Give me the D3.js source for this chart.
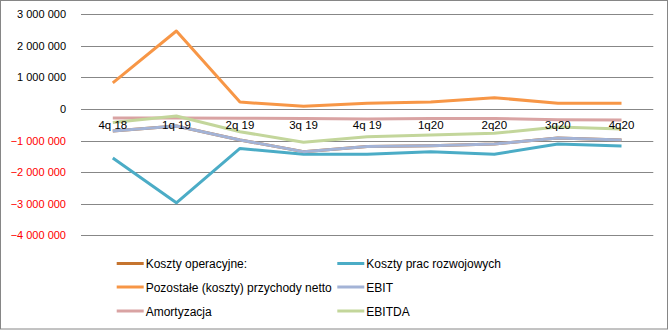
<!DOCTYPE html>
<html><head><meta charset="utf-8">
<script src="https://cdn.jsdelivr.net/npm/d3@7"></script>
<style>body{margin:0;background:#fff}svg{display:block}text{font-family:"Liberation Sans",Arial,sans-serif}</style>
</head><body>
<script>
const categories = ["4q 18","1q 19","2q 19","3q 19","4q 19","1q20","2q20","3q20","4q20"];
const kosztyOperacyjne = [-700000,-540000,-980000,-1350000,-1190000,-1160000,-1110000,-920000,-980000];
const kosztyPracRozwojowych = [-1550000,-2970000,-1250000,-1430000,-1430000,-1350000,-1430000,-1110000,-1170000];
const pozostale = [830000,2470000,220000,85000,180000,220000,360000,180000,180000];
const ebit = [-700000,-540000,-980000,-1350000,-1190000,-1160000,-1110000,-920000,-980000];
const amortyzacja = [-285000,-285000,-290000,-300000,-320000,-300000,-300000,-340000,-350000];
const ebitda = [-430000,-220000,-720000,-1050000,-880000,-820000,-770000,-570000,-630000];
const yTicks = [3000000,2000000,1000000,0,-1000000,-2000000,-3000000,-4000000];

const series = [
  {name:"Koszty operacyjne:", values:kosztyOperacyjne, color:"#C5742F"},
  {name:"Koszty prac rozwojowych", values:kosztyPracRozwojowych, color:"#4BACC6"},
  {name:"Pozostałe (koszty) przychody netto", values:pozostale, color:"#F79646"},
  {name:"EBIT", values:ebit, color:"#A3B3D6"},
  {name:"Amortyzacja", values:amortyzacja, color:"#D9A3A3"},
  {name:"EBITDA", values:ebitda, color:"#C3D69B"}
];
const drawOrder = [0,1,2,4,5,3];

const W=669,H=330;
const svg=d3.select("body").append("svg").attr("width",W).attr("height",H);
svg.append("rect").attr("x",0.5).attr("y",0.5).attr("width",W-2).attr("height",H-1.5)
  .attr("fill","#fff").attr("stroke","#868686");

const x=d3.scaleBand().domain(categories).range([81,653.3]);
const y=d3.scaleLinear().domain([-4000000,3000000]).range([235.3,14.3]);
const fmt=v=>d3.format(",")(v).replace(/,/g," ");

const g=svg.append("g");
g.selectAll("line.grid").data(yTicks).join("line").attr("class","grid")
  .attr("x1",81).attr("x2",653.3).attr("y1",d=>Math.round(y(d))+0.5).attr("y2",d=>Math.round(y(d))+0.5)
  .attr("stroke","#878787").attr("stroke-width",1);

const yAxis=svg.append("g").attr("transform","translate(81,0)")
  .call(d3.axisLeft(y).tickValues(yTicks).tickSize(0).tickPadding(15).tickFormat(fmt));
yAxis.select(".domain").remove();
yAxis.selectAll("text").attr("font-size",11).attr("fill",d=>d<0?"#FF0000":"#000")
  .attr("font-family","'Liberation Sans',Arial,sans-serif");

const line=d3.line().x((d,i)=>x(categories[i])+x.bandwidth()/2).y(d=>y(d));
drawOrder.forEach(k=>{
  const s=series[k];
  svg.append("path").datum(s.values).attr("d",line).attr("fill","none")
    .attr("stroke",s.color).attr("stroke-width",3).attr("stroke-linejoin","round");
});

const xAxis=svg.append("g").attr("transform",`translate(0,${y(0)})`)
  .call(d3.axisBottom(x).tickSize(0).tickPadding(12));
xAxis.select(".domain").remove();
xAxis.selectAll("text").attr("font-size",11.5).attr("fill","#000")
  .attr("font-family","'Liberation Sans',Arial,sans-serif");

const legendPos=[[116.7,263.5],[337.3,263.5],[116.7,287],[337.3,287],[116.7,311],[337.3,311]];
series.forEach((s,i)=>{
  const [lx,ly]=legendPos[i];
  svg.append("line").attr("x1",lx).attr("x2",lx+27).attr("y1",ly).attr("y2",ly)
    .attr("stroke",s.color).attr("stroke-width",3);
  svg.append("text").attr("x",lx+29).attr("y",ly+4.5).attr("font-size",12).attr("fill","#000").text(s.name);
});
</script>
</body></html>
